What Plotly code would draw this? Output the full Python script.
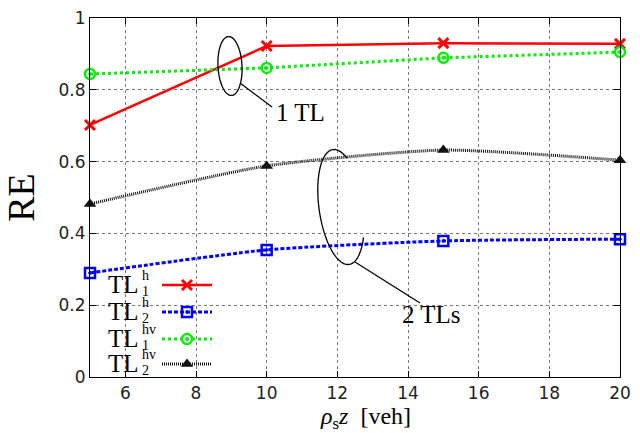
import plotly.graph_objects as go
import numpy as np

# ---- data ----
x_vals = [5, 10, 15, 20]
tl1_h = [0.702, 0.922, 0.930, 0.928]
tl2_h = [0.290, 0.354, 0.379, 0.384]
tl1_hv = [0.844, 0.861, 0.889, 0.905]
tl2_hv = [0.482, 0.588, 0.632, 0.604]
x_ticks = [6, 8, 10, 12, 14, 16, 18, 20]
y_ticks = [0, 0.2, 0.4, 0.6, 0.8, 1]

W, H = 640, 433
L, R, T, B = 90, 20, 18, 56
PW, PH = W - L - R, H - T - B
SERIF = "DejaVu Serif"
SERIF2 = "Liberation Serif"


def pp(px, py):
    return (px - L) / PW, (H - B - py) / PH


series = [
    dict(name="TL1h", y=tl1_h, color="#ff0000", dash="solid", width=2.5,
         symbol="x-thin-open", msize=10, mline=3, sup="h", sub="1", ly=285),
    dict(name="TL2h", y=tl2_h, color="#0000ff", dash="4px,2px", width=3,
         symbol="square-open-dot", msize=10, mline=2.5, sup="h", sub="2", ly=312),
    dict(name="TL1hv", y=tl1_hv, color="#00ee00", dash="3px,3px", width=3,
         symbol="circle-open-dot", msize=10, mline=2.5, sup="hv", sub="1", ly=339),
    dict(name="TL2hv", y=tl2_hv, color="#111111", dash="1px,1px", width=3,
         symbol="triangle-up", msize=11, mline=0, sup="hv", sub="2", ly=364),
]

fig = go.Figure()
for s in series:
    shape = "spline" if s["name"] in ("TL2h", "TL2hv") else "linear"
    fig.add_trace(go.Scatter(
        x=x_vals, y=s["y"], mode="lines+markers", showlegend=False,
        line=dict(color=s["color"], dash=s["dash"], width=s["width"], shape=shape, smoothing=0.6),
        marker=dict(symbol=s["symbol"], size=s["msize"], color=s["color"],
                    line=dict(color=s["color"], width=s["mline"])),
        cliponaxis=False,
    ))

# custom legend (text left, sample right) on an overlay axis
annotations = []
shapes = []
for s in series:
    x0, yy = pp(162, s["ly"])
    x1, _ = pp(212, s["ly"])
    xm, _ = pp(187, s["ly"])
    fig.add_trace(go.Scatter(x=[x0, x1], y=[yy, yy], mode="lines", xaxis="x2", yaxis="y2",
                             showlegend=False,
                             line=dict(color=s["color"], dash=s["dash"], width=s["width"])))
    fig.add_trace(go.Scatter(x=[xm], y=[yy], mode="markers", xaxis="x2", yaxis="y2",
                             showlegend=False,
                             marker=dict(symbol=s["symbol"], size=s["msize"], color=s["color"],
                                         line=dict(color=s["color"], width=s["mline"]))))
    tx, ty = pp(140, s["ly"] - 1)
    annotations.append(dict(x=tx, y=ty, xref="paper", yref="paper", text="TL",
                            showarrow=False, xanchor="right", yanchor="middle", borderpad=0,
                            font=dict(family=SERIF2, size=25, color="black")))
    sx, sy = pp(141, s["ly"] - 10)
    annotations.append(dict(x=sx, y=sy, xref="paper", yref="paper", text=s["sup"],
                            showarrow=False, xanchor="left", yanchor="middle", borderpad=0,
                            font=dict(family=SERIF2, size=14, color="black")))
    bx, by = pp(141, s["ly"] + 6)
    annotations.append(dict(x=bx, y=by, xref="paper", yref="paper", text=s["sub"],
                            showarrow=False, xanchor="left", yanchor="middle", borderpad=0,
                            font=dict(family=SERIF2, size=14, color="black")))

# ellipses and callouts
def ellipse_path(cx, cy, a, b, tilt_deg, t0, t1, n=80):
    th = np.radians(tilt_deg)
    ts = np.radians(np.linspace(t0, t1, n))
    pts = []
    for t in ts:
        ex, ey = a * np.cos(t), b * np.sin(t)
        px = cx + ex * np.cos(th) - ey * np.sin(th)
        py = cy - (ex * np.sin(th) + ey * np.cos(th))
        fx, fy = pp(px, py)
        pts.append(f"{fx:.5f},{fy:.5f}")
    return "M " + " L ".join(pts)

shapes.append(dict(type="path", xref="paper", yref="paper",
                   path=ellipse_path(230, 66, 12, 29.5, 3, 0, 360),
                   line=dict(color="black", width=1.3)))
shapes.append(dict(type="path", xref="paper", yref="paper",
                   path=ellipse_path(341, 207, 22, 58, 8, 55, 325),
                   line=dict(color="black", width=1.3)))
for (ax, ay, bx_, by_) in [(240, 83, 272, 107), (355, 262, 420, 303)]:
    a0, a1 = pp(ax, ay)
    b0, b1 = pp(bx_, by_)
    shapes.append(dict(type="line", xref="paper", yref="paper", x0=a0, y0=a1, x1=b0, y1=b1,
                       line=dict(color="black", width=1.3)))

for txt, cx, cy in [("1 TL", 300, 112), ("2 TLs", 431, 314)]:
    fx, fy = pp(cx, cy)
    annotations.append(dict(x=fx, y=fy, xref="paper", yref="paper", text=txt,
                            showarrow=False, xanchor="center", yanchor="middle",
                            font=dict(family=SERIF2, size=25, color="black")))

# x-axis title as annotation (serif, italic symbols)
xt, yt = pp(365, 418)
annotations.append(dict(x=xt, y=yt, xref="paper", yref="paper",
                        text="<i>ρ</i><sub>s</sub><i>z</i>  [veh]",
                        showarrow=False, xanchor="center", yanchor="middle",
                        font=dict(family=SERIF2, size=24, color="black")))

axis_common = dict(showline=True, linecolor="black", linewidth=1.2, mirror="ticks",
                   ticks="inside", ticklen=6, tickcolor="black",
                   showgrid=True, gridcolor="#777777", griddash="dot", gridwidth=1,
                   zeroline=False, automargin=False,
                   tickfont=dict(family="DejaVu Sans", size=17, color="#222222"))

fig.update_layout(
    width=W, height=H,
    margin=dict(l=L, r=R, t=T, b=B),
    plot_bgcolor="white", paper_bgcolor="white",
    xaxis=dict(range=[5, 20], tickvals=x_ticks, ticktext=[str(v) for v in x_ticks],
               **axis_common),
    yaxis=dict(range=[0, 1], tickvals=y_ticks, ticktext=["0", "0.2", "0.4", "0.6", "0.8", "1"],
               title=dict(text="RE", standoff=12,
                          font=dict(family=SERIF2, size=38, color="black")),
               **axis_common),
    xaxis2=dict(overlaying="x", range=[0, 1], visible=False),
    yaxis2=dict(overlaying="y", range=[0, 1], visible=False),
    annotations=annotations,
    shapes=shapes,
)

fig.write_html("out.html", config={"displayModeBar": False},
               post_script="document.body.style.margin='0';document.body.style.overflow='hidden';")
